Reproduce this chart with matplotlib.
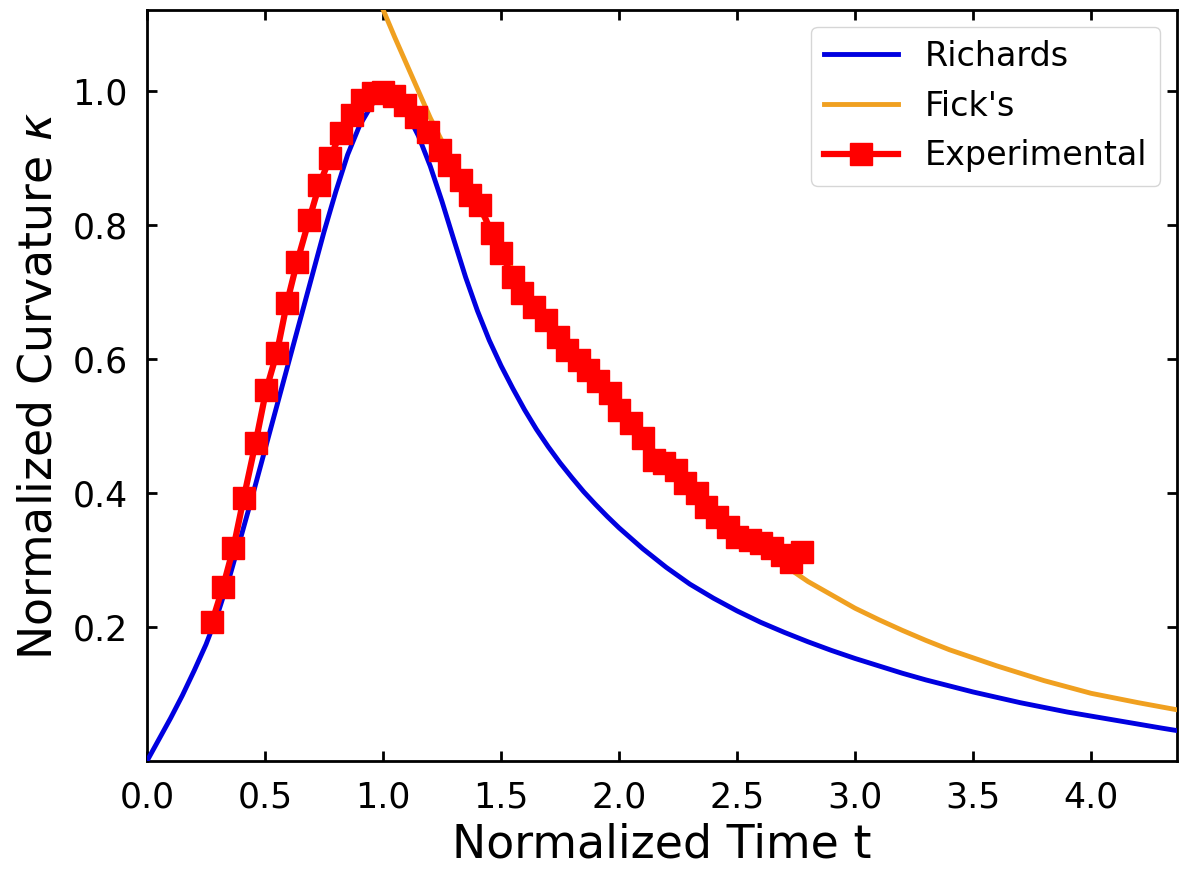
import matplotlib
matplotlib.use("Agg")
import matplotlib.pyplot as plt

# Richards model curve
rich_t = [0.0, 0.05, 0.1, 0.15, 0.2, 0.25, 0.3, 0.35, 0.4, 0.45, 0.5, 0.55, 0.6,
          0.65, 0.7, 0.75, 0.8, 0.85, 0.9, 0.95, 0.975, 1.0, 1.025, 1.05, 1.1,
          1.15, 1.2, 1.25, 1.3, 1.35, 1.4, 1.45, 1.5, 1.55, 1.6, 1.65, 1.7, 1.75,
          1.8, 1.85, 1.9, 1.95, 2.0, 2.1, 2.2, 2.3, 2.4, 2.5, 2.6, 2.7, 2.8, 2.9,
          3.0, 3.1, 3.2, 3.3, 3.4, 3.5, 3.6, 3.7, 3.8, 3.9, 4.0, 4.1, 4.2, 4.3, 4.37]
rich_k = [0.0, 0.032, 0.064, 0.098, 0.135, 0.174, 0.22, 0.275, 0.337, 0.40, 0.465,
          0.53, 0.595, 0.66, 0.725, 0.79, 0.85, 0.905, 0.948, 0.978, 0.992, 1.0,
          0.997, 0.99, 0.968, 0.933, 0.888, 0.835, 0.778, 0.722, 0.672, 0.628,
          0.590, 0.556, 0.524, 0.495, 0.469, 0.445, 0.423, 0.402, 0.383, 0.365,
          0.348, 0.317, 0.289, 0.264, 0.243, 0.224, 0.207, 0.192, 0.178, 0.165,
          0.153, 0.142, 0.131, 0.121, 0.112, 0.103, 0.095, 0.087, 0.080, 0.073,
          0.067, 0.061, 0.055, 0.049, 0.045]

# Fick's model curve
fick_t = [0.99, 1.05, 1.1, 1.2, 1.3, 1.4, 1.5, 1.6, 1.7, 1.8, 1.9, 2.0, 2.1, 2.2,
          2.3, 2.4, 2.5, 2.6, 2.7, 2.8, 2.9, 3.0, 3.1, 3.2, 3.3, 3.4, 3.6, 3.8,
          4.0, 4.2, 4.37]
fick_k = [1.13, 1.08, 1.04, 0.96, 0.89, 0.83, 0.762, 0.705, 0.652, 0.605, 0.565,
          0.52, 0.48, 0.445, 0.41, 0.375, 0.345, 0.318, 0.292, 0.268, 0.248,
          0.228, 0.211, 0.195, 0.18, 0.166, 0.142, 0.12, 0.101, 0.087, 0.076]

# Experimental data
exp_t = [0.275, 0.322, 0.366, 0.41, 0.46, 0.505, 0.55, 0.593, 0.636, 0.686, 0.73,
         0.775, 0.82, 0.87, 0.91, 0.958, 1.0, 1.045, 1.093, 1.14, 1.19, 1.24, 1.28,
         1.33, 1.37, 1.41, 1.46, 1.50, 1.55, 1.59, 1.64, 1.69, 1.74, 1.78, 1.83,
         1.87, 1.91, 1.96, 2.0, 2.05, 2.10, 2.15, 2.19, 2.24, 2.28, 2.33, 2.37,
         2.415, 2.46, 2.50, 2.555, 2.60, 2.65, 2.69, 2.73, 2.775]
exp_k = [0.207, 0.26, 0.318, 0.393, 0.475, 0.554, 0.609, 0.684, 0.745, 0.807, 0.86,
         0.90, 0.937, 0.964, 0.987, 0.997, 0.998, 0.993, 0.979, 0.961, 0.939, 0.912,
         0.89, 0.867, 0.845, 0.83, 0.788, 0.758, 0.722, 0.698, 0.678, 0.658, 0.633,
         0.613, 0.598, 0.584, 0.567, 0.549, 0.524, 0.504, 0.482, 0.449, 0.445, 0.434,
         0.415, 0.40, 0.379, 0.364, 0.349, 0.334, 0.33, 0.325, 0.318, 0.307, 0.297,
         0.312]

xticks = [0.0, 0.5, 1.0, 1.5, 2.0, 2.5, 3.0, 3.5, 4.0]
yticks = [0.2, 0.4, 0.6, 0.8, 1.0]

fig = plt.figure(figsize=(11.79, 8.77), dpi=100)
ax = fig.add_axes([0.1247, 0.1323, 0.8736, 0.8563])

ax.plot(rich_t, rich_k, color="#0000e0", lw=3.5, label="Richards", zorder=3)
ax.plot(fick_t, fick_k, color="#f0a020", lw=3.5, label="Fick's", zorder=3)
ax.plot(exp_t, exp_k, color="red", lw=4.5, marker="s", ms=16, mew=1,
        label="Experimental", zorder=4)

ax.set_xlim(0, 4.364)
ax.set_ylim(0, 1.121)
ax.set_xticks(xticks)
ax.set_xticklabels([f"{v:.1f}" for v in xticks])
ax.set_yticks(yticks)
ax.set_yticklabels([f"{v:.1f}" for v in yticks])

ax.tick_params(direction="in", length=7, width=2, labelsize=25, pad=14,
               top=True, right=True)
for s in ax.spines.values():
    s.set_linewidth(2)

ax.set_xlabel("Normalized Time t", fontsize=33, labelpad=6)
ax.set_ylabel(r"Normalized Curvature $\kappa$", fontsize=33, labelpad=8)

ax.legend(loc="upper right", fontsize=24, handlelength=2.2)

fig.savefig("out.png", dpi=100)
